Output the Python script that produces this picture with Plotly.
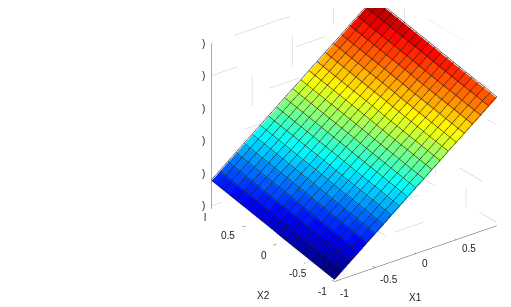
import plotly.graph_objects as go

x1_values = [-1.0,-0.9,-0.8,-0.7,-0.6,-0.5,-0.4,-0.3,-0.2,-0.1,0.0,0.1,0.2,0.3,0.4,0.5,0.6,0.7,0.8,0.9,1.0]
x2_values = [-1.0,-0.9,-0.8,-0.7,-0.6,-0.5,-0.4,-0.3,-0.2,-0.1,0.0,0.1,0.2,0.3,0.4,0.5,0.6,0.7,0.8,0.9,1.0]
z_along_x1 = [40,59,79,98,118,137,156,176,195,215,234,253,273,292,312,331,350,370,389,409,428]
z_offset_x2 = [-45,-41,-37,-33,-29,-25,-21,-17,-13,-9,-4,0,4,8,12,16,20,24,28,32,36]
x1_ticks = [-1,-0.5,0,0.5,1]
x2_ticks = [-1,-0.5,0,0.5,1]
z_ticks = [0,100,200,300,400,500]
z_range = [-10,500]

def jet(t):
    t = max(0.0, min(0.999, t))
    t = (int(t * 64) + 0.5) / 64
    ch = lambda v: int(255 * max(0.0, min(1.0, v)))
    return "rgb(%d,%d,%d)" % (ch(1.5 - abs(4 * t - 3)), ch(1.5 - abs(4 * t - 2)), ch(1.5 - abs(4 * t - 1)))

n1, n2 = len(x1_values), len(x2_values)
Z = [[z_along_x1[i] + z_offset_x2[j] for j in range(n2)] for i in range(n1)]
zmin = min(map(min, Z)); zmax = max(map(max, Z))
vx, vy, vz = [], [], []
for i in range(n1):
    for j in range(n2):
        vx.append(x1_values[i]); vy.append(x2_values[j]); vz.append(Z[i][j])
I, J, K, fc = [], [], [], []
for i in range(n1 - 1):
    for j in range(n2 - 1):
        a = i * n2 + j; b = a + 1; c = a + n2; d = c + 1
        col = jet((Z[i][j] - zmin) / (zmax - zmin))
        I += [a, b]; J += [b, d]; K += [c, c]; fc += [col, col]

fig = go.Figure()
fig.add_trace(go.Mesh3d(x=vx, y=vy, z=vz, i=I, j=J, k=K, facecolor=fc, flatshading=True,
                        lighting=dict(ambient=1, diffuse=0, specular=0, roughness=1, fresnel=0),
                        hoverinfo="skip", showscale=False))

def lines(segs, color, width=1, dash="solid"):
    xs, ys, zs = [], [], []
    for s in segs:
        for p in s:
            xs.append(p[0]); ys.append(p[1]); zs.append(p[2])
        xs.append(None); ys.append(None); zs.append(None)
    fig.add_trace(go.Scatter3d(x=xs, y=ys, z=zs, mode="lines", line=dict(color=color, width=width, dash=dash),
                               hoverinfo="skip", showlegend=False))

# cell edges, lifted just above the faces
edge = []
for i in range(n1):
    edge.append([(x1_values[i], x2_values[j], Z[i][j] + 4) for j in range(n2)])
for j in range(n2):
    edge.append([(x1_values[i], x2_values[j], Z[i][j] + 4) for i in range(n1)])
lines(edge, "#1c1c1c")

# back-wall and floor grid
zlo, zhi = z_range
grid = []
for v in x1_ticks[1:-1]:
    grid.append([(v, 1, zlo), (v, 1, zhi)])
    grid.append([(v, -1, zlo), (v, 1, zlo)])
for v in x2_ticks[1:-1]:
    grid.append([(1, v, zlo), (1, v, zhi)])
    grid.append([(-1, v, zlo), (1, v, zlo)])
for v in z_ticks + [zhi]:
    grid.append([(-1, 1, v), (1, 1, v)])
    grid.append([(1, -1, v), (1, 1, v)])
grid.append([(1, 1, zlo), (1, 1, zhi)])
lines(grid, "#c8c8c8", 1, "dash")

# axes
axes = [[(-1, 1, zlo), (-1, 1, zhi)], [(-1, -1, zlo), (-1, 1, zlo)], [(-1, -1, zlo), (1, -1, zlo)]]
for v in x1_ticks[:-1]:
    axes.append([(v, -1, zlo), (v, -0.96, zlo)])
for v in x2_ticks[:-1]:
    axes.append([(-1, v, zlo), (-0.96, v, zlo)])
lines(axes, "#555555")

font = dict(family="Liberation Sans, Arial", size=10, color="#222222")
ann = []
def label(x, y, z, text, dx, dy):
    ann.append(dict(x=x, y=y, z=z, text=text, showarrow=False, xshift=dx, yshift=dy, font=font,
                    xanchor="center", yanchor="middle"))
for v, t, dx, dy in zip(x1_ticks[:-1], ["-1", "-0.5", "0", "0.5"], [10, 14, 9, 13], [-12, -12, -10, -9]):
    label(v, -1, zlo, t, dx, dy)
for v, t, dx, dy in zip(x2_ticks[:-1], ["-1", "-0.5", "0", "0.5"], [-12, -6, -9, -14], [-10, -10, -10, -8]):
    label(-1, v, zlo, t, dx, dy)
label(-1, 1, zlo, "l", -7, -9)
for v in z_ticks:
    label(-1, 1, v, ")", -8, 0)
label(0, -1, zlo, "X1", 0, -44)
label(-1, 0, zlo, "X2", -10, -50)

fig.update_layout(
    width=511, height=307, margin=dict(l=0, r=0, t=0, b=0), paper_bgcolor="white", showlegend=False,
    scene=dict(
        domain=dict(x=[0, 1], y=[0, 1]),
        xaxis=dict(visible=False, range=[-1, 1]),
        yaxis=dict(visible=False, range=[-1, 1]),
        zaxis=dict(visible=False, range=z_range),
        aspectmode="manual", aspectratio=dict(x=1.33, y=1.32, z=1.21),
        camera=dict(projection=dict(type="orthographic"), center=dict(x=-0.518, y=0.295, z=-0.157),
                    up=dict(x=0, y=0, z=1), eye=dict(x=-1.492, y=-0.981, z=0.655)),
        annotations=ann,
    ),
)
fig.write_html("out.html", config=dict(displayModeBar=False))
